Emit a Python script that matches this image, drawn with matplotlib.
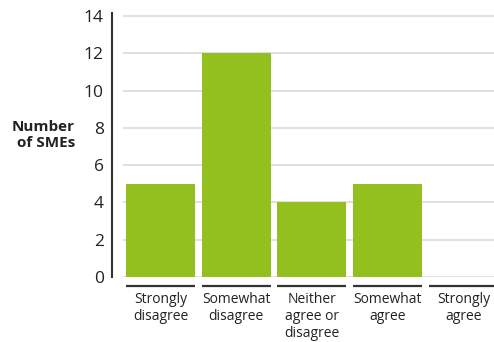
import matplotlib
matplotlib.use("Agg")
import matplotlib.pyplot as plt
import matplotlib.transforms as mtransforms

plt.rcParams['font.family'] = ['Open Sans', 'DejaVu Sans']

categories = ["Strongly\ndisagree", "Somewhat\ndisagree", "Neither\nagree or\ndisagree",
              "Somewhat\nagree", "Strongly\nagree"]
counts = [5, 12, 4, 5, 0]
y_ticks = [0, 2, 4, 6, 8, 10, 12, 14]

W, H, DPI = 494, 342, 100
fig = plt.figure(figsize=(W / DPI, H / DPI), dpi=DPI)
ax = fig.add_axes([123 / W, (H - 277) / H, (494 - 123) / W, (277 - 13) / H])

x = list(range(len(categories)))
bar_w = 0.911
ax.bar(x, counts, width=bar_w, color="#93C01F", zorder=3)

ax.set_xlim(-0.495, 4.403)
ax.set_ylim(0, 14.16)
ax.set_yticks(y_ticks)
ax.set_yticklabels([str(v) for v in y_ticks])
ax.yaxis.grid(True, color="#dddddd", linewidth=1.3, zorder=0)
ax.set_axisbelow(True)

for s in ["top", "right", "bottom"]:
    ax.spines[s].set_visible(False)
ax.spines["left"].set_position(("outward", 11 * 72 / DPI))
ax.spines["left"].set_color("#333333")
ax.spines["left"].set_linewidth(1.5)

ax.tick_params(axis="y", length=0, pad=6, labelsize=12.5, labelcolor="#222222")
ax.set_xticks([])

# category underlines and labels below the plotting area
trans = mtransforms.blended_transform_factory(ax.transData, ax.transAxes)
line_y = -(286 - 277) / (277 - 13)
for xi, label in zip(x, categories):
    ax.plot([xi - bar_w / 2, xi + bar_w / 2], [line_y, line_y], transform=trans,
            color="#333333", linewidth=1.6, clip_on=False, solid_capstyle="butt")
    ax.text(xi, -(292 - 277) / (277 - 13), label, transform=trans, ha="center", va="top",
            fontsize=10, color="#222222", linespacing=1.17)

fig.text(75 / W, 1 - 135 / H, "Number\nof SMEs", ha="right", va="center",
         fontsize=11, fontweight="bold", color="#222222", linespacing=1.1)

fig.savefig("out.png", dpi=DPI)
